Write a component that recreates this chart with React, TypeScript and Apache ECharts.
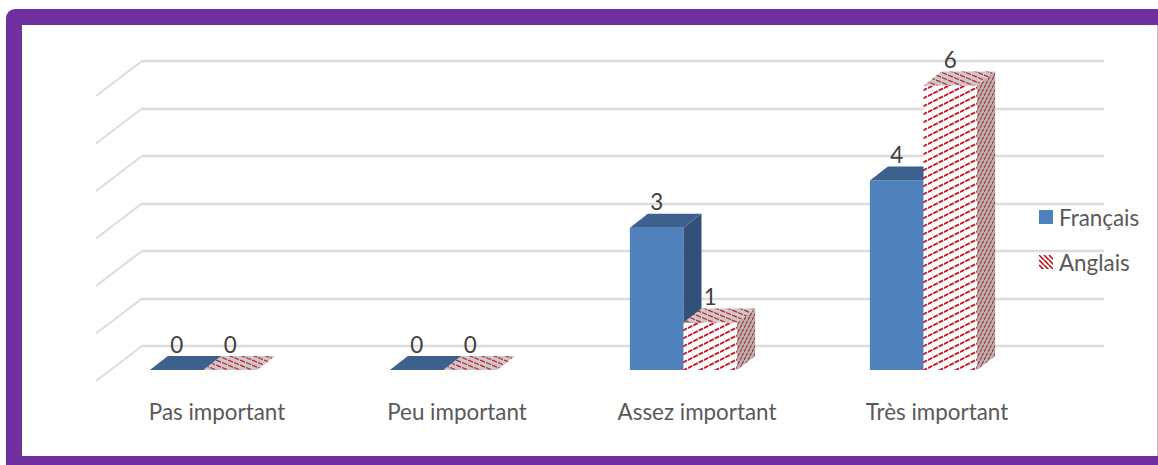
import React, { useEffect, useRef } from "react";
import * as echarts from "echarts";

const categories = ["Pas important", "Peu important", "Assez important", "Très important"];
const francais = [0, 0, 3, 4];
const anglais = [0, 0, 1, 6];
const wallTicks = [0, 1, 2, 3, 4, 5, 6];

const FONT = "Lato, 'Open Sans', sans-serif";
const BLUE = "#4f81bd";
const BLUE_TOP = "#3c618f";
const BLUE_SIDE = "#325178";
const GRID_LINE = "#dcdcdc";
const DEPTH_X = 18;
const DEPTH_Y = 14;
const BAR_WIDTH = 53.6;
const GROUP_SHIFT = -13.5;

// Builds a repeating tile of dashed diagonal strokes on a flat background.
function stripeTile(
  w: number,
  h: number,
  bg: string,
  stroke: string,
  lineWidth: number,
  rising: boolean,
  dashes = 0,
) {
  const c = document.createElement("canvas");
  c.width = w;
  c.height = h;
  const g = c.getContext("2d")!;
  g.fillStyle = bg;
  g.fillRect(0, 0, w, h);
  g.strokeStyle = stroke;
  g.lineWidth = lineWidth;
  if (dashes > 0) {
    const period = Math.hypot(w, h) / dashes;
    g.setLineDash([period * 0.82, period * 0.18]);
  }
  for (const oy of [-h, 0, h]) {
    g.beginPath();
    if (rising) {
      g.moveTo(0, h + oy);
      g.lineTo(w, oy);
    } else {
      g.moveTo(0, oy);
      g.lineTo(w, h + oy);
    }
    g.stroke();
  }
  return { image: c, repeat: "repeat" as const };
}

export default function App() {
  const ref = useRef<HTMLDivElement>(null);

  useEffect(() => {
    const chart = echarts.init(ref.current!, undefined, { renderer: "svg" });

    const frontHatch = stripeTile(16, 8, "#ffffff", "#d01828", 2, true, 3);
    const topHatch = stripeTile(12, 5, "#cfc8c8", "#bb2a34", 1.3, false, 2);
    const sideHatch = stripeTile(4, 8, "#bdb0b0", "#a0333b", 1.2, true, 2);
    const legendHatch = stripeTile(5, 5, "#ffffff", "#c00000", 1.5, false);

    // One series of 3D-looking columns: front face, side face, top face and value text.
    const columnSeries = (
      name: string,
      values: number[],
      slot: number,
      front: unknown,
      top: unknown,
      side: unknown,
    ) => ({
      type: "custom",
      name,
      coordinateSystem: "cartesian2d",
      xAxisIndex: 1,
      yAxisIndex: 1,
      z: 3 + slot,
      encode: { x: 0, y: 1 },
      data: values.map((v, i) => [i, v]),
      renderItem: (_: unknown, api: any) => {
        const [cx, yTop] = api.coord([api.value(0), api.value(1)]);
        const [, yBase] = api.coord([api.value(0), 0]);
        const x0 = cx + GROUP_SHIFT - BAR_WIDTH + slot * BAR_WIDTH;
        const x1 = x0 + BAR_WIDTH;
        return {
          type: "group",
          children: [
            {
              type: "polygon",
              shape: { points: [[x0, yBase], [x1, yBase], [x1, yTop], [x0, yTop]] },
              style: { fill: front },
            },
            {
              type: "polygon",
              shape: {
                points: [[x1, yBase], [x1 + DEPTH_X, yBase - DEPTH_Y], [x1 + DEPTH_X, yTop - DEPTH_Y], [x1, yTop]],
              },
              style: { fill: side },
            },
            {
              type: "polygon",
              shape: {
                points: [[x0, yTop], [x1, yTop], [x1 + DEPTH_X, yTop - DEPTH_Y], [x0 + DEPTH_X, yTop - DEPTH_Y]],
              },
              style: { fill: top },
            },
            {
              type: "text",
              style: {
                text: String(api.value(1)),
                x: (x0 + x1) / 2,
                y: yTop - 26,
                align: "center",
                verticalAlign: "middle",
                fill: "#404040",
                fontSize: 22.4,
                fontFamily: FONT,
              },
            },
          ],
        };
      },
    });

    chart.setOption({
      animation: false,
      backgroundColor: "#ffffff",
      graphic: [
        {
          type: "rect",
          z: -10,
          shape: { x: 6, y: 9, width: 1152, height: 456, r: [9, 0, 0, 0] },
          style: { fill: "#7030a0" },
        },
        {
          type: "rect",
          z: -9,
          shape: { x: 22, y: 25, width: 1135, height: 431 },
          style: { fill: "#ffffff" },
        },
        {
          type: "rect",
          z: -9,
          shape: { x: 1157, y: 25, width: 1, height: 431 },
          style: { fill: "#cdbcdc" },
        },
      ],
      grid: [
        { left: 142, top: 61, width: 962, height: 285 },
        { left: 97, top: 85.6, width: 960, height: 284.4 },
      ],
      xAxis: [
        { gridIndex: 0, type: "value", min: 0, max: 1, show: false },
        {
          gridIndex: 1,
          type: "category",
          data: categories,
          axisLine: { show: false },
          axisTick: { show: false },
          axisLabel: { color: "#595959", fontSize: 22.4, fontFamily: FONT, margin: 30, interval: 0 },
        },
      ],
      yAxis: [
        {
          gridIndex: 0,
          type: "value",
          min: 0,
          max: 6,
          interval: 1,
          axisLine: { show: false },
          axisTick: { show: false },
          axisLabel: { show: false },
          splitLine: { show: true, lineStyle: { color: GRID_LINE, width: 2.4 } },
        },
        { gridIndex: 1, type: "value", min: 0, max: 6, show: false },
      ],
      legend: {
        orient: "vertical",
        left: 1034,
        top: 201,
        itemWidth: 14,
        itemHeight: 14,
        itemGap: 23,
        textStyle: { color: "#595959", fontSize: 22.4, fontFamily: FONT, padding: [0, 0, 0, 1] },
        data: [
          { name: "Français", icon: "rect", itemStyle: { color: BLUE } },
          { name: "Anglais", icon: "rect", itemStyle: { color: legendHatch } },
        ],
      },
      series: [
        {
          // Receding floor-side strokes joining each wall line to the front edge.
          type: "custom",
          coordinateSystem: "cartesian2d",
          xAxisIndex: 0,
          yAxisIndex: 0,
          silent: true,
          z: 1,
          encode: { x: 0, y: 1 },
          data: wallTicks.map((t) => [0, t]),
          renderItem: (_: unknown, api: any) => {
            const [x, y] = api.coord([0, api.value(1)]);
            return {
              type: "line",
              shape: { x1: x, y1: y, x2: x - 46, y2: y + 35 },
              style: { stroke: GRID_LINE, lineWidth: 2, fill: "none" },
            };
          },
        },
        columnSeries("Français", francais, 0, BLUE, BLUE_TOP, BLUE_SIDE),
        columnSeries("Anglais", anglais, 1, frontHatch, topHatch, sideHatch),
      ],
    } as any);

    return () => chart.dispose();
  }, []);

  return (
    <div
      ref={ref}
      style={{ position: "absolute", left: 0, top: 0, width: 1158, height: 465, overflow: "hidden" }}
    />
  );
}
